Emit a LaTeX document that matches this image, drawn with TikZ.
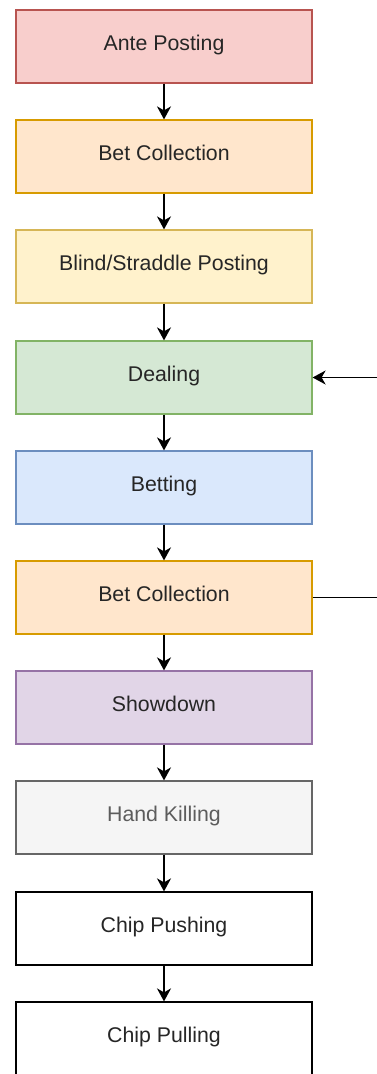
\documentclass[tikz,border=0pt]{standalone}
\usepackage{fontspec}
\setmainfont{Liberation Sans}
\usetikzlibrary{arrows.meta}
\definecolor{redF}{HTML}{F8CECC}\definecolor{redS}{HTML}{B85450}
\definecolor{oraF}{HTML}{FFE6CC}\definecolor{oraS}{HTML}{D79B00}
\definecolor{yelF}{HTML}{FFF2CC}\definecolor{yelS}{HTML}{D6B656}
\definecolor{greF}{HTML}{D5E8D4}\definecolor{greS}{HTML}{82B366}
\definecolor{bluF}{HTML}{DAE8FC}\definecolor{bluS}{HTML}{6C8EBF}
\definecolor{purF}{HTML}{E1D5E7}\definecolor{purS}{HTML}{9673A6}
\definecolor{gryF}{HTML}{F5F5F5}\definecolor{gryS}{HTML}{666666}
\definecolor{gryT}{HTML}{333333}
\tikzset{
  stepbox/.style={draw, line width=1.2pt, minimum width=296pt, minimum height=73pt,
    inner sep=0pt, font=\fontsize{21.3}{25}\selectfont, text=black!85,
    text height=16pt, text depth=9pt},
  flow/.style={line width=1.8pt, -{Stealth[length=13pt, width=14pt, inset=4pt]}},
  plain/.style={line width=1.8pt}
}
\begin{document}
\begin{tikzpicture}[x=1pt, y=-1pt]
\useasboundingbox (0,0) rectangle (377,1074);
\node[stepbox, fill=redF, draw=redS] (a) at (164,46.5) {Ante Posting};
\node[stepbox, fill=oraF, draw=oraS] (b) at (164,156.5) {Bet Collection};
\node[stepbox, fill=yelF, draw=yelS] (c) at (164,266.5) {Blind/Straddle Posting};
\node[stepbox, fill=greF, draw=greS] (d) at (164,377.5) {Dealing};
\node[stepbox, fill=bluF, draw=bluS] (e) at (164,487.5) {Betting};
\node[stepbox, fill=oraF, draw=oraS] (f) at (164,597.5) {Bet Collection};
\node[stepbox, fill=purF, draw=purS] (g) at (164,707.5) {Showdown};
\node[stepbox, fill=gryF, draw=gryS, text=gryT!80] (h) at (164,817.5) {Hand Killing};
\node[stepbox, fill=white, draw=black] (i) at (164,928.5) {Chip Pushing};
\node[stepbox, fill=white, draw=black] (j) at (164,1038.5) {Chip Pulling};
\draw[flow] (a) -- (b);
\draw[flow] (b) -- (c);
\draw[flow] (c) -- (d);
\draw[flow] (d) -- (e);
\draw[flow] (e) -- (f);
\draw[flow] (f) -- (g);
\draw[flow] (g) -- (h);
\draw[flow] (h) -- (i);
\draw[flow] (i) -- (j);
\coordinate (fout) at (378,597.5);
\coordinate (din) at (378,377.5);
\draw[plain] (f.east) -- (fout);
\draw[flow] (din) -- (d.east);
\end{tikzpicture}
\end{document}
